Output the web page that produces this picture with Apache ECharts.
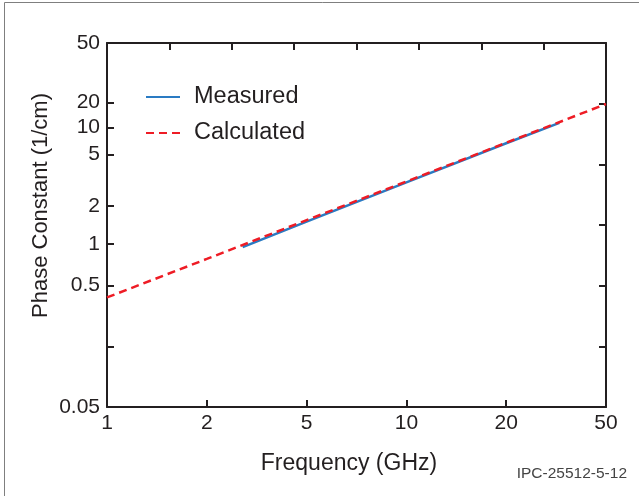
<!DOCTYPE html>
<html>
<head>
<meta charset="utf-8">
<script src="https://cdn.jsdelivr.net/npm/echarts@6/dist/echarts.min.js"></script>
<style>
  html, body { margin: 0; padding: 0; background: #ffffff; }
  #chart { width: 639px; height: 496px; }
</style>
</head>
<body>
<div id="chart"></div>
<script>
// ---- data ----
const freqTicks = [1, 2, 5, 10, 20, 50];
const freqTickLabels = ['1', '2', '5', '10', '20', '50'];
const phaseTicks = [0.05, 0.5, 1, 2, 5, 10, 20, 50];
const phaseTickLabels = ['0.05', '0.5', '1', '2', '5', '10', '20', '50'];

const measuredFreq = [2.78, 5, 10, 20, 32.6];
const measuredPhase = [0.95, 1.50, 3.03, 6.64, 11.3];
const calculatedFreq = [1, 2, 5, 10, 20, 50];
const calculatedPhase = [0.40, 0.78, 1.54, 3.08, 6.73, 19.1];

// ---- layout of the reference's (irregular) axes, in axis units ----
const freqTickPos = [0, 1, 2, 3, 4, 5];
const phaseTickPos = [0, 2, 2.687, 3.318, 4.165, 4.610, 5.022, 6];
const phaseBlankTickPos = [1];

// piecewise-logarithmic mapping between the labelled ticks
function toAxis(v, ticks, pos) {
  let i = 0;
  while (i < ticks.length - 2 && v > ticks[i + 1]) i++;
  return pos[i] + (pos[i + 1] - pos[i]) * Math.log(v / ticks[i]) / Math.log(ticks[i + 1] / ticks[i]);
}
function pairs(xs, ys) {
  return xs.map((x, k) => [toAxis(x, freqTicks, freqTickPos), toAxis(ys[k], phaseTicks, phaseTickPos)]);
}
function labelAt(val, pos, labels) {
  const i = pos.findIndex(p => Math.abs(p - val) < 1e-6);
  return i >= 0 ? labels[i] : '';
}

const FONT = '"Liberation Sans", Arial, Helvetica, sans-serif';
const INK = '#231f20';

const chart = echarts.init(document.getElementById('chart'), null, { renderer: 'canvas' });
const axisLineStyle = { color: INK, width: 2 };
const tickStyle = { color: INK, width: 2 };

chart.setOption({
  animation: false,
  backgroundColor: '#ffffff',
  grid: { left: 107, right: 33, top: 43, bottom: 89, containLabel: false },
  legend: {
    orient: 'vertical',
    left: 145,
    top: 85,
    padding: 0,
    itemWidth: 34,
    itemHeight: 14,
    itemGap: 12,
    itemStyle: { opacity: 0 },
    textStyle: { fontFamily: FONT, fontSize: 23.5, color: INK, padding: [0, 0, 0, 9], lineHeight: 23 },
    data: ['Measured', 'Calculated']
  },
  xAxis: [
    {
      type: 'value', position: 'bottom', min: 0, max: 5, interval: 1,
      name: 'Frequency (GHz)', nameLocation: 'middle', nameGap: 45, nameMoveOverlap: false,
      nameTextStyle: { fontFamily: FONT, fontSize: 23, color: INK, padding: [0, 15, 0, 0] },
      axisLine: { show: true, onZero: false, lineStyle: axisLineStyle },
      axisTick: { show: true, inside: true, length: 7, lineStyle: tickStyle },
      axisLabel: {
        fontFamily: FONT, fontSize: 21, color: INK, margin: 6,
        formatter: v => labelAt(v, freqTickPos, freqTickLabels)
      },
      splitLine: { show: false }
    },
    {
      type: 'value', position: 'top', min: 0, max: 8, interval: 1,
      axisLine: { show: true, onZero: false, lineStyle: axisLineStyle },
      axisTick: { show: true, inside: true, length: 7, lineStyle: tickStyle },
      axisLabel: { show: false },
      splitLine: { show: false }
    }
  ],
  yAxis: [
    {
      type: 'value', position: 'left', min: 0, max: 6,
      name: 'Phase Constant (1/cm)', nameLocation: 'middle', nameGap: 55, nameRotate: 90,
      nameMoveOverlap: false,
      nameTextStyle: { fontFamily: FONT, fontSize: 22, color: INK, padding: [0, 0, 0, 39] },
      axisLine: { show: true, onZero: false, lineStyle: axisLineStyle },
      axisTick: {
        show: true, inside: true, length: 7, lineStyle: tickStyle,
        customValues: phaseTickPos.concat(phaseBlankTickPos)
      },
      axisLabel: {
        fontFamily: FONT, fontSize: 21, color: INK, margin: 7,
        customValues: phaseTickPos,
        formatter: v => labelAt(v, phaseTickPos, phaseTickLabels)
      },
      splitLine: { show: false }
    },
    {
      type: 'value', position: 'right', min: 0, max: 6, interval: 1,
      axisLine: { show: true, onZero: false, lineStyle: axisLineStyle },
      axisTick: { show: true, inside: true, length: 7, lineStyle: tickStyle },
      axisLabel: { show: false },
      splitLine: { show: false }
    }
  ],
  graphic: [
    {
      type: 'rect', silent: true, z: 0,
      shape: { x: 4.5, y: 2.5, width: 800, height: 800 },
      style: { fill: 'none', stroke: '#7f7f7f', lineWidth: 1 }
    },
    {
      type: 'text', silent: true, right: 12, top: 466,
      style: { text: 'IPC-25512-5-12', fontFamily: FONT, fontSize: 15.5, fill: '#444444' }
    }
  ],
  series: [
    {
      name: 'Measured', type: 'line', xAxisIndex: 0, yAxisIndex: 0,
      symbol: 'none', showSymbol: false,
      lineStyle: { color: '#2a7bc3', width: 2.5 },
      itemStyle: { color: '#2a7bc3' },
      data: pairs(measuredFreq, measuredPhase),
      z: 2
    },
    {
      name: 'Calculated', type: 'line', xAxisIndex: 0, yAxisIndex: 0,
      symbol: 'none', showSymbol: false,
      lineStyle: { color: '#ee1c25', width: 2.5, type: [8, 5] },
      itemStyle: { color: '#ee1c25' },
      data: pairs(calculatedFreq, calculatedPhase),
      z: 3
    }
  ]
});
</script>
</body>
</html>
